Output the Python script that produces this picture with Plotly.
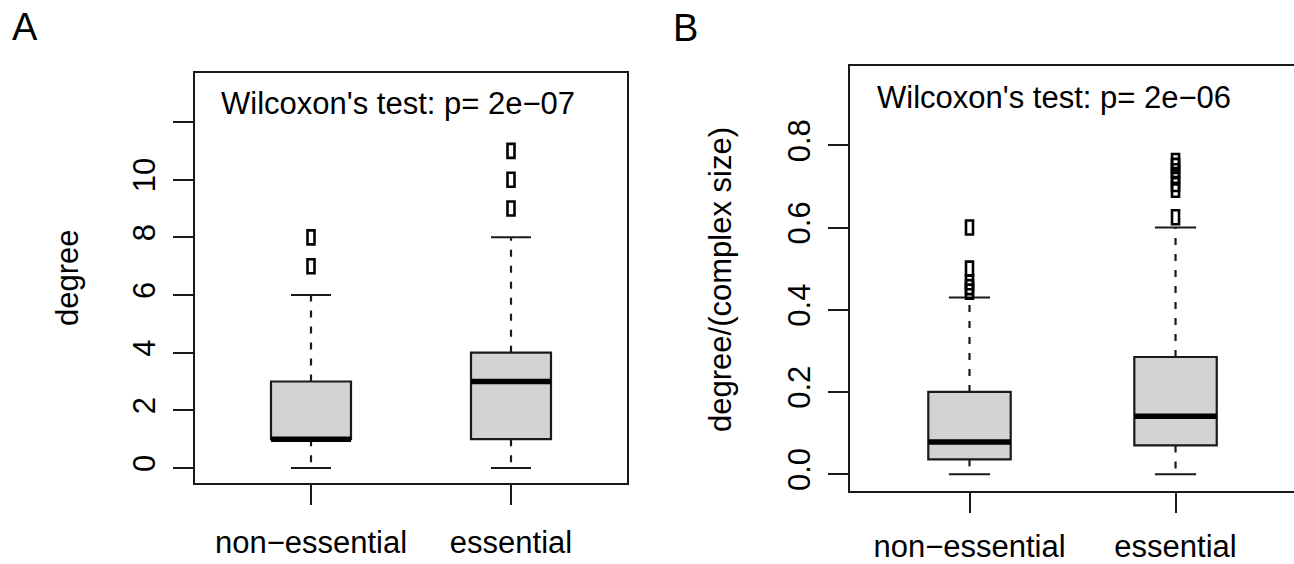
import plotly.graph_objects as go

W, H = 1294, 564

categories = ["non-essential", "essential"]
cat_labels = ["non\u2212essential", "essential"]

# Panel A: degree
a_q1 = [1, 1]
a_med = [1, 3]
a_q3 = [3, 4]
a_lo = [0, 0]
a_hi = [6, 8]
a_out = [[7, 8], [9, 10, 11]]
a_ticks = [0, 2, 4, 6, 8, 10, 12]
a_ticktext = ["0", "2", "4", "6", "8", "10", ""]
a_title = "Wilcoxon's test: p= 2e\u221207"

# Panel B: degree/(complex size)
b_q1 = [0.036, 0.07]
b_med = [0.078, 0.141]
b_q3 = [0.2, 0.285]
b_lo = [0, 0]
b_hi = [0.43, 0.6]
b_out = [[0.444, 0.455, 0.467, 0.5, 0.6],
         [0.625, 0.692, 0.706, 0.722, 0.737, 0.75, 0.762]]
b_ticks = [0, 0.2, 0.4, 0.6, 0.8]
b_ticktext = ["0.0", "0.2", "0.4", "0.6", "0.8"]
b_title = "Wilcoxon's test: p= 2e\u221206"

FONT = "Liberation Sans, Arial, sans-serif"
LC = "#1a1a1a"

fig = go.Figure()
shapes = []


def add_panel(xr, yr, q1, med, q3, lo, hi, outs):
    xs = [1, 2]
    # invisible anchor trace so axes render
    fig.add_trace(go.Scatter(x=xs, y=med, mode="markers", marker=dict(opacity=0),
                             xaxis=xr, yaxis=yr, showlegend=False, hoverinfo="skip"))
    xref, yref = xr, yr
    for i, x in enumerate(xs):
        # whiskers (dashed)
        shapes.append(dict(type="line", xref=xref, yref=yref, x0=x, x1=x, y0=q3[i], y1=hi[i],
                           line=dict(color=LC, width=2.2, dash="7px,9px"), layer="above"))
        shapes.append(dict(type="line", xref=xref, yref=yref, x0=x, x1=x, y0=q1[i], y1=lo[i],
                           line=dict(color=LC, width=2.2, dash="7px,9px"), layer="above"))
        # caps
        for v in (lo[i], hi[i]):
            shapes.append(dict(type="line", xref=xref, yref=yref, x0=x - 0.1, x1=x + 0.1, y0=v, y1=v,
                               line=dict(color=LC, width=2), layer="above"))
        # box
        shapes.append(dict(type="rect", xref=xref, yref=yref, x0=x - 0.2, x1=x + 0.2, y0=q1[i], y1=q3[i],
                           fillcolor="#d3d3d3", line=dict(color=LC, width=2.2), layer="above"))
        # median
        shapes.append(dict(type="line", xref=xref, yref=yref, x0=x - 0.2, x1=x + 0.2, y0=med[i], y1=med[i],
                           line=dict(color="black", width=5.5), layer="above"))
        # outliers
        for v in outs[i]:
            shapes.append(dict(type="rect", xref=xref, yref=yref, xsizemode="pixel", ysizemode="pixel",
                               xanchor=x, yanchor=v, x0=-3.5, x1=3.5, y0=-7, y1=7,
                               fillcolor="rgba(0,0,0,0)", line=dict(color="black", width=2.6),
                               layer="above"))


add_panel("x", "y", a_q1, a_med, a_q3, a_lo, a_hi, a_out)
add_panel("x2", "y2", b_q1, b_med, b_q3, b_lo, b_hi, b_out)

def px(x):
    return x / W

def py(y):
    return 1 - y / H

axis_common = dict(showgrid=False, zeroline=False, showline=True, linecolor=LC, linewidth=2,
                   ticks="outside", ticklen=20, tickwidth=2, tickcolor=LC,
                   tickfont=dict(family=FONT, size=31, color="black"), automargin=False)

fig.update_layout(
    width=W, height=H, margin=dict(l=0, r=0, t=0, b=0),
    paper_bgcolor="white", plot_bgcolor="white", template="none", showlegend=False,
    xaxis=dict(axis_common, domain=[px(195), px(627)], range=[0.42, 2.58], anchor="y",
               tickvals=[1, 2], ticktext=cat_labels, mirror=True, ticklabelstandoff=11),
    yaxis=dict(axis_common, domain=[py(483), py(73)], range=[-0.52, 13.70], anchor="x",
               tickvals=a_ticks, ticktext=a_ticktext, tickangle=-90, mirror=True,
               ticklabelstandoff=6),
    xaxis2=dict(axis_common, domain=[px(850), 1.0], range=[0.42, 2.575], anchor="y2",
                tickvals=[1, 2], ticktext=cat_labels, mirror=True, ticklabelstandoff=7),
    yaxis2=dict(axis_common, domain=[py(491), py(66)], range=[-0.041, 0.993], anchor="x2",
                tickvals=b_ticks, ticktext=b_ticktext, tickangle=-90, mirror=False,
                ticklabelstandoff=6),
    shapes=shapes,
    annotations=[
        dict(text="A", x=px(25), y=py(27), xref="paper", yref="paper", showarrow=False,
             font=dict(family=FONT, size=38, color="black"), xanchor="center", yanchor="middle"),
        dict(text="B", x=px(685), y=py(28), xref="paper", yref="paper", showarrow=False,
             font=dict(family=FONT, size=38, color="black"), xanchor="center", yanchor="middle"),
        dict(text=a_title, x=px(219), y=py(103), xref="paper", yref="paper", showarrow=False,
             font=dict(family=FONT, size=31, color="black"), xanchor="left", yanchor="middle"),
        dict(text=b_title, x=px(875), y=py(98), xref="paper", yref="paper", showarrow=False,
             font=dict(family=FONT, size=31, color="black"), xanchor="left", yanchor="middle"),
        dict(text="degree", x=px(67), y=py(278), xref="paper", yref="paper", showarrow=False,
             textangle=-90, font=dict(family=FONT, size=31, color="black"),
             xanchor="center", yanchor="middle"),
        dict(text="degree/(complex size)", x=px(720), y=py(280), xref="paper", yref="paper",
             showarrow=False, textangle=-90, font=dict(family=FONT, size=31, color="black"),
             xanchor="center", yanchor="middle"),
    ],
)

fig.write_html("out.html")
